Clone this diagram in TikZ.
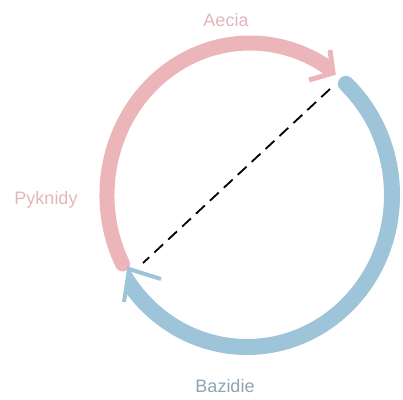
\documentclass[tikz,border=0pt]{standalone}
\usepackage{fontspec}
\usetikzlibrary{calc}
\setmainfont{Liberation Sans}
\definecolor{pinkarc}{HTML}{EBB5B9}
\definecolor{pinktext}{HTML}{E2B6BB}
\definecolor{bluearc}{HTML}{9DC4D8}
\definecolor{bluetext}{HTML}{8CA5B6}
\begin{document}
\begin{tikzpicture}[x=1pt,y=1pt,
  pinkband/.style={draw=pinkarc, line width=15pt},
  blueband/.style={draw=bluearc, line width=16pt},
  pinkbarb/.style={draw=pinkarc, line width=5pt, line join=miter},
  bluebarb/.style={draw=bluearc, line width=4pt, line join=miter},
  link/.style={draw=black, line width=1.8pt, dash pattern=on 12pt off 7pt},
  label/.style={font=\fontsize{18}{20}\selectfont}]
\useasboundingbox (0,0) rectangle (403,399);
\coordinate (pc) at (250,204);
\coordinate (bc) at (247,204);

% pink band: Pyknidy -> Aecia, its end trimmed to the arrowhead
\coordinate (ptip) at (333,326);
\coordinate (pb1) at (330,349);
\coordinate (pb2) at (309,319);
\begin{scope}
  \clip ($(ptip)!6!(pb1)$) -- (ptip) -- ($(ptip)!2!(pb2)$) -- (250,-20)
        -- (-20,-20) -- (-20,480) -- cycle;
  \draw[pinkband, line cap=round] ([shift={(207:143pt and 152pt)}]pc)
    arc[start angle=207, end angle=55, x radius=143pt, y radius=152pt];
\end{scope}
\draw[pinkbarb] (pb1) -- (ptip) -- (pb2);

% blue band: Bazidie back to Pyknidy, its end trimmed to the arrowhead
\coordinate (btip) at (129,130);
\coordinate (bb1) at (161,120);
\coordinate (bb2) at (124,97);
\begin{scope}
  \clip ($(btip)!2!(bb1)$) -- (btip) -- ($(btip)!2!(bb2)$) -- (119,-20)
        -- (420,-20) -- (420,420) -- (190,420) -- cycle;
  \draw[blueband, line cap=round] ([shift={(47:145pt and 152pt)}]bc)
    arc[start angle=47, end angle=-152, x radius=145pt, y radius=152pt];
\end{scope}
\draw[bluebarb] (bb1) -- (btip) -- (bb2);

% dashed link across the cycle
\coordinate (d1) at (330,310);
\coordinate (d2) at (143,136);
\draw[link] (d1) -- (d2);

\node[label, text=pinktext] (aecia) at (226,379) {Aecia};
\node[label, text=pinktext] (pyk) at (46,199) {Pyknidy};
\node[label, text=bluetext] (baz) at (225,13) {Bazidie};
\end{tikzpicture}
\end{document}
